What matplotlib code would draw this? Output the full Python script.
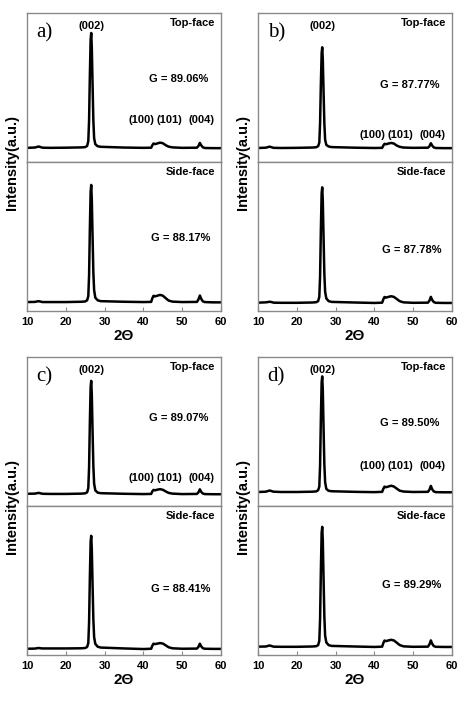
import matplotlib
matplotlib.use('Agg')
import matplotlib.pyplot as plt

plt.rcParams['font.family'] = ['Liberation Sans', 'DejaVu Sans']
plt.rcParams['font.weight'] = 'bold'

# 2-theta sample positions (deg)
two_theta = [10, 12, 13, 13.5, 14, 16, 20, 24, 25.0, 25.5, 25.8, 26.0, 26.2, 26.4, 26.55, 26.7,
             26.9, 27.1, 27.3, 27.6, 28.2, 29, 35, 40, 42.0, 42.3, 42.6, 43.0, 43.5, 44.3, 45.0,
             45.8, 46.5, 47.5, 50, 53.8, 54.2, 54.55, 54.9, 55.3, 55.8, 58, 60]

# intensities (normalised to panel height)
a_top = [.095, .097, .104, .100, .096, .095, .096, .098, .100, .108, .14, .28, .58, .82, .866, .77,
         .52, .28, .16, .12, .106, .102, .097, .095, .096, .112, .124, .120, .124, .130, .126,
         .112, .103, .098, .095, .096, .108, .128, .112, .099, .094, .093, .093]
a_side = [.060, .061, .066, .063, .060, .060, .060, .062, .064, .072, .10, .24, .55, .80, .846, .75,
          .50, .26, .14, .09, .072, .066, .062, .060, .061, .085, .102, .098, .102, .108, .103,
          .085, .070, .063, .060, .061, .078, .104, .082, .065, .060, .058, .058]
b_top = [.094, .096, .103, .099, .095, .094, .095, .097, .099, .106, .13, .26, .52, .73, .770, .69,
         .47, .26, .15, .115, .104, .100, .096, .094, .095, .110, .122, .119, .123, .128, .124,
         .110, .102, .097, .095, .096, .106, .126, .110, .098, .094, .093, .093]
b_side = [.056, .058, .062, .060, .056, .055, .055, .057, .059, .066, .095, .23, .54, .79, .830, .74,
          .49, .25, .13, .085, .066, .061, .057, .054, .056, .078, .094, .090, .094, .099, .095,
          .080, .066, .058, .055, .056, .070, .095, .074, .060, .055, .054, .054]
c_top = [.082, .083, .088, .085, .082, .081, .081, .083, .085, .092, .12, .26, .56, .80, .840, .75,
         .50, .27, .15, .105, .090, .086, .082, .080, .081, .098, .108, .105, .109, .113, .109,
         .097, .088, .083, .080, .081, .092, .112, .095, .084, .080, .079, .079]
c_side = [.042, .043, .047, .045, .044, .044, .044, .045, .047, .054, .08, .22, .52, .76, .800, .71,
          .47, .24, .12, .075, .056, .050, .044, .040, .042, .062, .076, .073, .076, .080, .077,
          .064, .052, .045, .042, .043, .055, .076, .058, .046, .042, .041, .041]
d_top = [.094, .096, .104, .100, .096, .094, .094, .096, .098, .106, .13, .27, .58, .83, .870, .78,
         .52, .28, .16, .115, .102, .099, .095, .093, .095, .115, .130, .126, .130, .136, .131,
         .116, .103, .097, .094, .095, .110, .135, .112, .098, .093, .092, .092]
d_side = [.056, .057, .064, .060, .056, .055, .055, .057, .059, .066, .095, .24, .56, .82, .860, .77,
          .51, .26, .13, .085, .066, .061, .057, .054, .056, .080, .097, .093, .097, .102, .098,
          .082, .067, .058, .055, .056, .072, .098, .075, .060, .055, .054, .054]

panel_tags = ['a)', 'b)', 'c)', 'd)']
g_top = ['G = 89.06%', 'G = 87.77%', 'G = 89.07%', 'G = 89.50%']
g_side = ['G = 88.17%', 'G = 87.78%', 'G = 88.41%', 'G = 89.29%']
hkl = ['(100)', '(101)', '(004)']
hkl_x = [39.4, 46.8, 55.0]
xticks = [10, 20, 30, 40, 50, 60]

tops = [a_top, b_top, c_top, d_top]
sides = [a_side, b_side, c_side, d_side]

# text heights per panel (axes fraction)
g_top_y = [0.56, 0.52, 0.59, 0.56]
g_side_y = [0.49, 0.41, 0.44, 0.47]
hkl_y = [0.28, 0.18, 0.19, 0.27]

W, H = 469, 701
fig = plt.figure(figsize=(W / 100, H / 100), dpi=100)

lefts = [27, 258, 27, 258]
panel_tops = [13, 13, 357, 357]
ax_w = 194
ax_h = 149
spine_col = '#8a8a8a'

for i in range(4):
    x0 = lefts[i] / W
    t = panel_tops[i]
    ax_t = fig.add_axes([x0, 1 - (t + ax_h) / H, ax_w / W, ax_h / H])
    ax_s = fig.add_axes([x0, 1 - (t + 2 * ax_h) / H, ax_w / W, ax_h / H])

    for ax, y in ((ax_t, tops[i]), (ax_s, sides[i])):
        ax.plot(two_theta, y, color='black', lw=1.8, solid_joinstyle='round')
        ax.set_xlim(10, 60)
        ax.set_ylim(0, 1)
        ax.set_yticks([])
        for sp in ax.spines.values():
            sp.set_color(spine_col)
            sp.set_linewidth(1.0)

    ax_t.set_xticks([])
    ax_s.set_xticks(xticks)
    ax_s.set_xticklabels([str(v) for v in xticks], fontsize=8, fontweight='bold')
    ax_s.tick_params(axis='x', direction='in', length=3, color=spine_col, pad=4)
    ax_s.set_xlabel('2\u0398', fontsize=11, fontweight='bold', labelpad=2)

    ax_t.text(0.05, 0.87, panel_tags[i], transform=ax_t.transAxes, fontsize=15,
              family=['Liberation Serif', 'DejaVu Serif'], fontweight='normal', va='center')
    ax_t.text(26.6, 0.91, '(002)', fontsize=8, fontweight='bold', ha='center', va='center',
              transform=ax_t.get_xaxis_transform())
    ax_t.text(0.97, 0.93, 'Top-face', transform=ax_t.transAxes, fontsize=8,
              fontweight='bold', ha='right', va='center')
    ax_s.text(0.97, 0.93, 'Side-face', transform=ax_s.transAxes, fontsize=8,
              fontweight='bold', ha='right', va='center')
    ax_t.text(41.5, g_top_y[i], g_top[i], fontsize=8, fontweight='bold', va='center',
              transform=ax_t.get_xaxis_transform())
    ax_s.text(42.0, g_side_y[i], g_side[i], fontsize=8, fontweight='bold', va='center',
              transform=ax_s.get_xaxis_transform())
    for lab, hx in zip(hkl, hkl_x):
        ax_t.text(hx, hkl_y[i], lab, fontsize=8, fontweight='bold', ha='center', va='center',
                  transform=ax_t.get_xaxis_transform())

    fig.text((lefts[i] - 15) / W, 1 - (t + ax_h) / H, 'Intensity(a.u.)', rotation=90,
             fontsize=10.5, fontweight='bold', ha='center', va='center')

fig.savefig('out.png', dpi=100)
